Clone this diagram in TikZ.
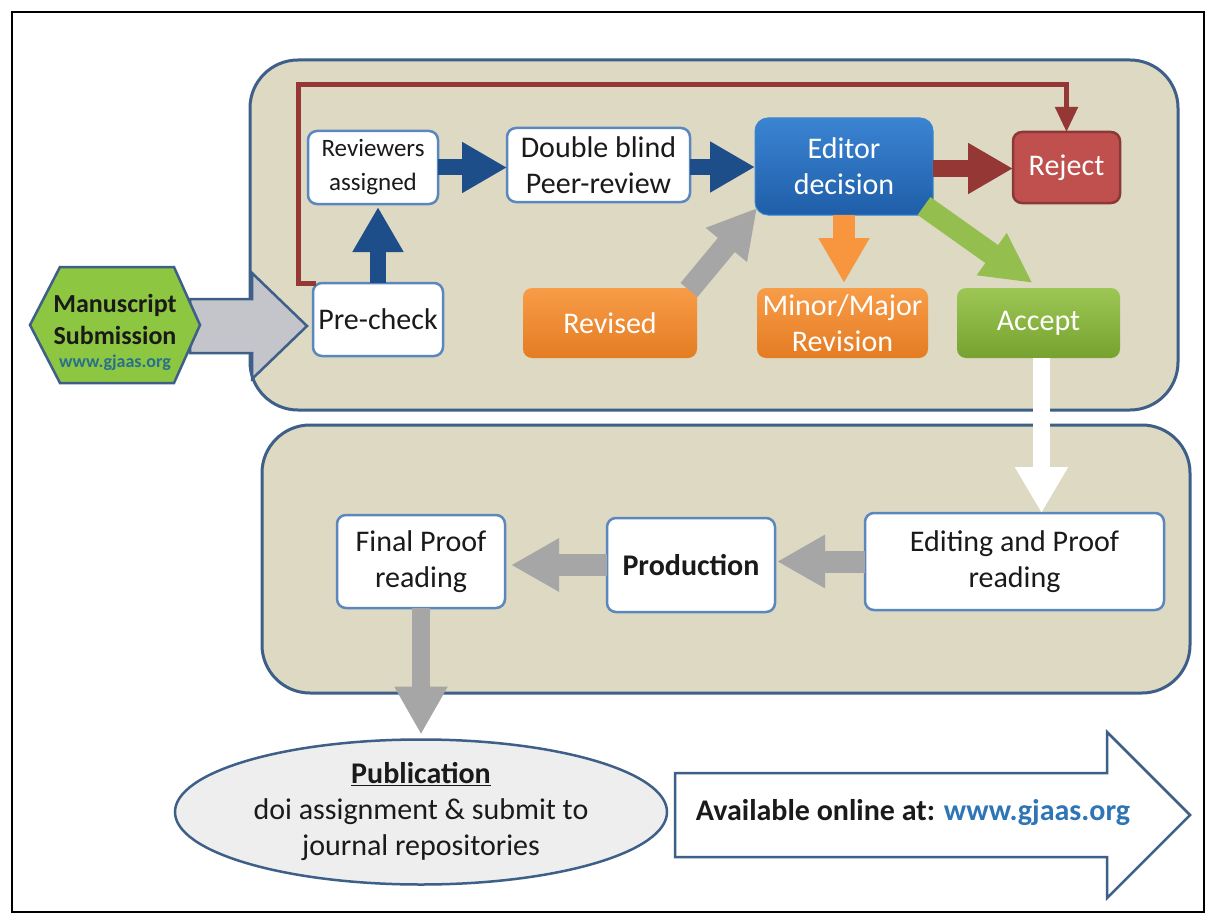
\documentclass[tikz,border=0pt]{standalone}
\usepackage{fontspec}
\setmainfont{Carlito}
\usetikzlibrary{arrows.meta,calc,shapes.geometric}
\definecolor{panelfill}{HTML}{DDD9C3}
\definecolor{panelline}{HTML}{3E5F87}
\definecolor{boxline}{HTML}{5B87BF}
\definecolor{navy}{HTML}{1E4E8A}
\definecolor{darkred}{HTML}{953735}
\definecolor{rejfill}{HTML}{C0504D}
\definecolor{rejline}{HTML}{8C3836}
\definecolor{orangeA}{HTML}{F89C48}
\definecolor{orangeB}{HTML}{E47C22}
\definecolor{arrorange}{HTML}{F7963F}
\definecolor{greenA}{HTML}{9DC755}
\definecolor{greenB}{HTML}{77A230}
\definecolor{arrgreen}{HTML}{94BE4E}
\definecolor{editA}{HTML}{3A84D2}
\definecolor{editB}{HTML}{1F5EA8}
\definecolor{grayarr}{HTML}{A6A6A6}
\definecolor{entryfill}{HTML}{C4C4CB}
\definecolor{hexfill}{HTML}{8DC641}
\definecolor{urlteal}{HTML}{28708C}
\definecolor{urlblue}{HTML}{2E75B6}
\definecolor{ellfill}{HTML}{EEEEEE}
\definecolor{txt}{HTML}{1A1A1A}
\begin{document}
\begin{tikzpicture}[x=1pt,y=-1pt,
  every node/.style={inner sep=0pt, outer sep=0pt},
  box/.style={rounded corners=9pt, align=center, font=\fontsize{30}{36}\selectfont},
  whitebox/.style={box, draw=boxline, line width=2.5pt, fill=white, text=txt},
  colbox/.style={box, text=white},
  panel/.style={draw=panelline, line width=3pt, fill=panelfill, rounded corners=48pt},
  navyarr/.style={draw=navy, line width=16pt, -{Triangle[width=48pt,length=45pt]}},
  redarr/.style={draw=darkred, line width=17pt, -{Triangle[width=48pt,length=45pt]}},
  orangearr/.style={draw=arrorange, line width=22pt, -{Triangle[width=48pt,length=45pt]}},
  greenarr/.style={draw=arrgreen, line width=22pt, -{Triangle[width=48pt,length=50pt]}},
  grayarrow/.style={draw=grayarr, line width=22pt, -{Triangle[width=50pt,length=48pt]}},
  whitearr/.style={draw=white, line width=17pt, -{Triangle[width=50pt,length=46pt]}},
  redline/.style={draw=darkred, line width=5pt, -{Triangle[width=22pt,length=25pt]}},
  outline/.style={draw=panelline, line width=2.5pt}]
\useasboundingbox (0,0) rectangle (1216,923);
\fill[white] (0,0) rectangle (1216,923);
\draw[line width=2.5pt] (12,12) rectangle (1204,912);

% panels
\draw[panel] (250,60) rectangle (1178,410);
\draw[panel] (262,425) rectangle (1190,693);

% entry arrow and hexagon
\coordinate (entrytip) at (307,326);
\filldraw[outline, fill=entryfill] (190,299) -- (252,299) -- (252,273) -- (entrytip) -- (252,379) -- (252,353) -- (190,353) -- cycle;
\filldraw[outline, fill=hexfill] (30,325) -- (60,267) -- (174,267) -- (200,325) -- (174,383) -- (60,383) -- cycle;
\node[align=center, text=txt, font=\fontsize{26}{32}\selectfont\bfseries] (ms) at (115,319) {Manuscript\\Submission};
\node[text=urlteal, font=\fontsize{18}{22}\selectfont\bfseries] (msurl) at (115,363) {www.gjaas.org};

% top panel boxes
\node[whitebox, minimum width=130pt, minimum height=73pt] (pc) at (378,319.5) {Pre-check};
\node[whitebox, minimum width=130pt, minimum height=73pt, font=\fontsize{25}{34}\selectfont] (ra) at (373,167.5) {Reviewers\\assigned};
\node[whitebox, minimum width=183pt, minimum height=74pt] (db) at (598.5,165) {Double blind\\Peer-review};
\node[colbox, top color=editA, bottom color=editB, draw=editA, line width=1pt, rounded corners=13pt, minimum width=178pt, minimum height=97pt] (ed) at (844,166.5) {Editor\\decision};
\node[colbox, fill=rejfill, draw=rejline, line width=2.5pt, minimum width=107pt, minimum height=71pt] (rj) at (1066.5,167.5) {Reject};
\node[colbox, top color=orangeA, bottom color=orangeB, minimum width=171pt, minimum height=70pt] (mm) at (842.5,323) {Minor/Major\\Revision};
\node[colbox, top color=greenA, bottom color=greenB, minimum width=163pt, minimum height=70pt] (ac) at (1038.5,323) {Accept};
\node[colbox, top color=orangeA, bottom color=orangeB, minimum width=174pt, minimum height=70pt] (rv) at (610,323) {Revised};

% bottom panel boxes
\node[whitebox, minimum width=299pt, minimum height=97pt] (ep) at (1014.5,561.5) {Editing and Proof\\reading};
\node[whitebox, minimum width=168pt, minimum height=94pt, font=\fontsize{30}{36}\selectfont\bfseries] (pr) at (691,565) {Production};
\node[whitebox, minimum width=168pt, minimum height=93pt] (fp) at (421,561.5) {Final Proof\\reading};

% publication
\node[ellipse, draw=panelline, line width=2.5pt, fill=ellfill, minimum width=492pt, minimum height=145pt, align=center, text=txt, font=\fontsize{30}{36}\selectfont] (pub) at (421,812) {\textbf{\underline{Publication}}\\doi assignment \& submit to\\journal repositories};

% available online arrow
\coordinate (avtip) at (1190,815);
\filldraw[outline, fill=white] (675,773) -- (1107,773) -- (1107,732) -- (avtip) -- (1107,898) -- (1107,857) -- (675,857) -- cycle;
\node[font=\fontsize{30}{36}\selectfont\bfseries, text=txt] (av) at (913,813) {Available online at: \textcolor{urlblue}{www.gjaas.org}};

% connectors
\coordinate (rtop) at (298,85);
\draw[redline] ($(pc.north west)+(3,0)$) -- (pc.north west -| rtop) -- (rtop) -- (rtop -| rj.north) -- (rj.north);
\draw[navyarr] (pc.north) -- ($(pc.north |- ra.south)+(0,3)$);
\draw[navyarr] (ra.east) -- (ra.east -| db.west);
\draw[navyarr] ($(db.east)+(0,2)$) -- ($(db.east -| ed.west)+(0,2)$);
\draw[redarr] ($(ed.east)+(0,2)$) -- ($(ed.east -| rj.west)+(0,2)$);
\draw[orangearr] (ed.south) -- ($(ed.south |- mm.north)+(0,-5)$);
\draw[greenarr] ($(ed.south east)+(-9,-9)$) -- ($(ac.north)+(-6,-5)$);
\draw[grayarrow] ($(rv.north east)+(-8,2)$) -- ($(ed.south west)+(2,-7)$);
\draw[whitearr] ($(ac.south)+(3,0)$) -- ($(ac.south |- ep.north)+(3,0)$);
\draw[grayarrow] (ep.west) -- ($(ep.west -| pr.east)+(2,0)$);
\draw[grayarrow] (pr.west) -- ($(pr.west -| fp.east)+(6,0)$);
\draw[grayarrow, line width=18pt] (fp.south) -- ($(pub.north)+(0,-5)$);
\end{tikzpicture}
\end{document}
